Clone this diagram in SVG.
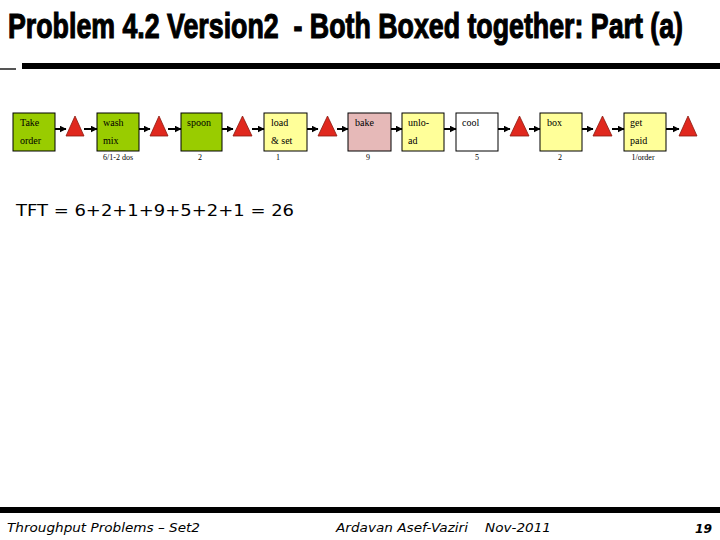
<svg xmlns="http://www.w3.org/2000/svg" width="720" height="540" viewBox="0 0 720 540">
<defs>
<style>
.box{stroke:#000;stroke-width:1}
.g{fill:#99cc00}.y{fill:#ffff99}.p{fill:#e6b9b8}.w{fill:#fff}
.tri{fill:#e0281e;stroke:#8a1a10;stroke-width:0.8}
.bt{font-family:"Liberation Serif",serif;font-size:10px;fill:#000}
.lb{font-family:"Liberation Serif",serif;font-size:8px;fill:#000;text-anchor:middle}
.ar{stroke:#000;stroke-width:2;fill:none;marker-end:url(#ah)}
.ft{font-family:"DejaVu Sans",sans-serif;font-style:italic;font-size:12px;fill:#000}
</style>
<marker id="ah" viewBox="0 0 6 6" refX="5.5" refY="3" markerWidth="3.5" markerHeight="3.5" orient="auto" markerUnits="strokeWidth">
<path d="M0,0 L6,3 L0,6 z" fill="#000"/>
</marker>
</defs>
<rect width="720" height="540" fill="#fff"/>
<g transform="scale(1,1.6)">
<text x="8" y="23.8" font-family="Liberation Sans,sans-serif" font-weight="bold" font-size="22" stroke="#000" stroke-width="0.7" textLength="675" lengthAdjust="spacingAndGlyphs">Problem 4.2 Version2&#160; - Both Boxed together: Part (a)</text>
</g>
<rect x="22" y="63" width="698" height="6" fill="#000"/>
<rect x="0" y="68" width="16" height="2" fill="#555"/>
<g id="n1"><rect class="box g" x="13" y="113" width="42" height="38"/><text class="bt" x="20" y="126">Take</text><text class="bt" x="20" y="144">order</text></g>
<g id="t1"><polygon class="tri" points="75,116 84,136 66,136"/></g>
<g id="n2"><rect class="box g" x="97" y="113" width="42" height="38"/><text class="bt" x="103" y="126">wash</text><text class="bt" x="103" y="144">mix</text><text class="lb" x="118" y="160">6/1-2 dos</text></g>
<g id="t2"><polygon class="tri" points="159,116 168,136 150,136"/></g>
<g id="n3"><rect class="box g" x="181" y="113" width="41" height="38"/><text class="bt" x="187" y="126">spoon</text><text class="lb" x="200" y="160">2</text></g>
<g id="t3"><polygon class="tri" points="242.5,116 252,136 233,136"/></g>
<g id="n4"><rect class="box y" x="264" y="113" width="43" height="38"/><text class="bt" x="271" y="126">load</text><text class="bt" x="271" y="144">&amp; set</text><text class="lb" x="278" y="160">1</text></g>
<g id="t4"><polygon class="tri" points="327.5,116 337,136 318,136"/></g>
<g id="n5"><rect class="box p" x="348" y="113" width="43" height="38"/><text class="bt" x="355" y="126">bake</text><text class="lb" x="368" y="160">9</text></g>
<g id="n6"><rect class="box y" x="402" y="113" width="42" height="38"/><text class="bt" x="408" y="126">unlo-</text><text class="bt" x="408" y="144">ad</text></g>
<g id="n7"><rect class="box w" x="456" y="113" width="42" height="38"/><text class="bt" x="462" y="126">cool</text><text class="lb" x="477" y="160">5</text></g>
<g id="t5"><polygon class="tri" points="519.5,116 529,136 510,136"/></g>
<g id="n8"><rect class="box y" x="540" y="113" width="42" height="38"/><text class="bt" x="547" y="126">box</text><text class="lb" x="560" y="160">2</text></g>
<g id="t6"><polygon class="tri" points="602.5,116 612,136 593,136"/></g>
<g id="n9"><rect class="box y" x="624" y="113" width="42" height="38"/><text class="bt" x="630" y="126">get</text><text class="bt" x="630" y="144">paid</text><text class="lb" x="643" y="160">1/order</text></g>
<g id="t7"><polygon class="tri" points="688,116 697,136 679,136"/></g>
<g id="connectors">
<line class="ar" x1="55" y1="129" x2="66" y2="129"/>
<line class="ar" x1="84" y1="129" x2="97" y2="129"/>
<line class="ar" x1="139" y1="129" x2="150" y2="129"/>
<line class="ar" x1="168" y1="129" x2="181" y2="129"/>
<line class="ar" x1="222" y1="129" x2="233" y2="129"/>
<line class="ar" x1="252" y1="129" x2="264" y2="129"/>
<line class="ar" x1="307" y1="129" x2="318" y2="129"/>
<line class="ar" x1="337" y1="129" x2="348" y2="129"/>
<line class="ar" x1="391" y1="129" x2="402" y2="129"/>
<line class="ar" x1="444" y1="129" x2="456" y2="129"/>
<line class="ar" x1="498" y1="129" x2="510" y2="129"/>
<line class="ar" x1="529" y1="129" x2="540" y2="129"/>
<line class="ar" x1="582" y1="129" x2="593" y2="129"/>
<line class="ar" x1="612" y1="129" x2="624" y2="129"/>
<line class="ar" x1="666" y1="129" x2="679" y2="129"/>
</g>
<text x="16" y="216" font-family="DejaVu Sans,sans-serif" font-size="16" textLength="278" lengthAdjust="spacingAndGlyphs">TFT = 6+2+1+9+5+2+1 = 26</text>
<rect x="0" y="507" width="720" height="6" fill="#000"/>
<text class="ft" x="7" y="532" textLength="193" lengthAdjust="spacingAndGlyphs">Throughput Problems – Set2</text>
<text class="ft" x="336" y="532" textLength="132" lengthAdjust="spacingAndGlyphs">Ardavan Asef-Vaziri</text>
<text class="ft" x="485" y="532" textLength="66" lengthAdjust="spacingAndGlyphs">Nov-2011</text>
<text class="ft" x="695" y="533" font-weight="bold" textLength="17" lengthAdjust="spacingAndGlyphs">19</text>
</svg>
